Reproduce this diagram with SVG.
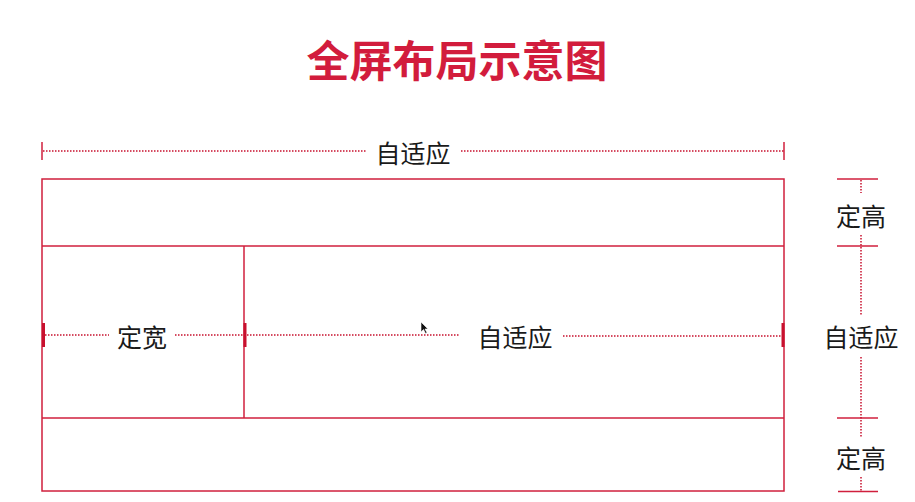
<svg xmlns="http://www.w3.org/2000/svg" width="915" height="502" viewBox="0 0 915 502">
<style>
.t{font-family:"Noto Sans CJK SC","Noto Sans",sans-serif;font-size:25px;fill:#1a1a1a;text-anchor:middle;dominant-baseline:central}
.title{font-family:"Noto Sans CJK SC","Noto Sans",sans-serif;font-size:43px;font-weight:bold;fill:#d21c3c;text-anchor:middle}
.box{fill:none;stroke:#d01f3c;stroke-width:1.5}
.dot{stroke:#c8102e;stroke-width:1.5;stroke-dasharray:1.5 1.5;fill:none}
.tick{stroke:#d01f3c;stroke-width:1.5}
.bar{stroke:#c8102e;stroke-width:3}
</style>
<rect width="915" height="502" fill="#fff"/>
<g id="title"><text class="title" x="457" y="77">全屏布局示意图</text></g>
<g id="layout">
<rect class="box" x="42" y="179" width="742" height="312"/>
<line class="box" x1="42" y1="246" x2="784" y2="246"/>
<line class="box" x1="42" y1="418" x2="784" y2="418"/>
<line class="box" x1="244" y1="246" x2="244" y2="418"/>
</g>
<g id="connectors">
<line class="tick" x1="42" y1="142" x2="42" y2="160"/>
<line class="tick" x1="784" y1="142" x2="784" y2="160"/>
<line class="dot" x1="43" y1="151" x2="366" y2="151"/>
<line class="dot" x1="461" y1="151" x2="784" y2="151"/>
<line class="bar" x1="43.5" y1="323" x2="43.5" y2="347"/>
<line class="bar" x1="245" y1="323" x2="245" y2="347"/>
<line class="bar" x1="783" y1="323" x2="783" y2="347"/>
<line class="dot" x1="45" y1="335" x2="109" y2="335"/>
<line class="dot" x1="175" y1="335" x2="244" y2="335"/>
<line class="dot" x1="247" y1="335" x2="460" y2="335"/>
<line class="dot" x1="563" y1="336" x2="782" y2="336"/>
<line class="tick" x1="837" y1="179" x2="878" y2="179"/>
<line class="tick" x1="837" y1="246" x2="878" y2="246"/>
<line class="tick" x1="837" y1="418" x2="878" y2="418"/>
<line class="tick" x1="838" y1="491.5" x2="878" y2="491.5"/>
<line class="dot" x1="861" y1="180" x2="861" y2="193"/>
<line class="dot" x1="861" y1="235" x2="861" y2="315"/>
<line class="dot" x1="861" y1="357" x2="861" y2="437"/>
<line class="dot" x1="861" y1="477" x2="861" y2="491"/>
</g>
<g id="label-top"><text class="t" x="413" y="152">自适应</text></g>
<g id="label-fixed-width"><text class="t" x="142" y="336">定宽</text></g>
<g id="label-center"><text class="t" x="515" y="336">自适应</text></g>
<g id="label-header"><text class="t" x="861" y="215">定高</text></g>
<g id="label-middle"><text class="t" x="861" y="336">自适应</text></g>
<g id="label-footer"><text class="t" x="861" y="457">定高</text></g>
<g id="cursor"><polygon points="421,322 421,332 423.5,329.5 425.5,333.5 427,332.8 425,329 428,329" fill="#111" stroke="#fff" stroke-width="0.6"/></g>
</svg>
